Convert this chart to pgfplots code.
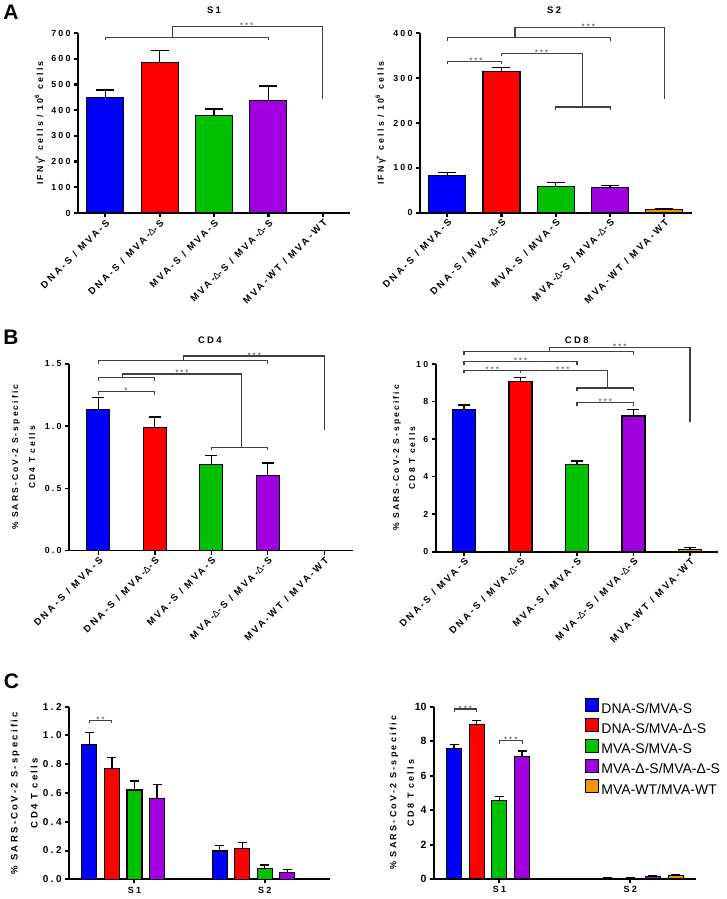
\documentclass[border=0pt]{standalone}
\usepackage{fontspec}
\setmainfont{Liberation Sans}
\newfontfamily\pf{Liberation Sans}[LetterSpace=25]
\usepackage{pgfplots}
\pgfplotsset{compat=1.18}

\definecolor{cBlue}{HTML}{0000FF}
\definecolor{cRed}{HTML}{FF0000}
\definecolor{cGreen}{HTML}{00C000}
\definecolor{cPurple}{HTML}{A000E0}
\definecolor{cOrange}{HTML}{F39400}
\definecolor{brkc}{HTML}{404040}

\newcommand{\tk}{\pf\bfseries\fontsize{8.8}{10}\selectfont}
\newcommand{\D}{{\mdseries Δ}}

\tikzset{
  brk/.style={draw=brkc, line width=1.1pt},
  stars/.style={font=\pf\fontsize{8}{9}\selectfont, text=brkc, anchor=base, yshift=-2pt, inner sep=0pt},
}

\pgfplotsset{
  prism/.style={
    scale only axis, clip=false,
    axis x line*=bottom, axis y line*=left,
    axis line style={-, line width=#1},
    tick align=outside, major tick length=4pt,
    every tick/.style={black, line width=#1},
    ymin=0,
    tick label style={font=\tk},
    /pgf/number format/assume math mode=true,
    title style={font=\pf\bfseries\fontsize{9.5}{11}\selectfont, anchor=center, yshift=0pt},
    ylabel style={anchor=center, align=center, font=\tk},
  },
  groups/.style={
    xmin=-0.5, xmax=4.5, xtick={0,...,4},
    xticklabels={DNA-S / MVA-S, DNA-S / MVA-\D-S, MVA-S / MVA-S, MVA-\D-S / MVA-\D-S, MVA-WT / MVA-WT},
    x tick label style={rotate=45, anchor=north east, inner sep=1pt, font=\pf\bfseries\fontsize{9.6}{11}\selectfont},
  },
  bar/.style 2 args={ybar, bar shift=0pt, bar width=#2, draw=black, line width=1.1pt, fill=#1},
  eb/.style={error bars/y dir=plus, error bars/y explicit,
    error bars/error bar style={line width=1.3pt, black},
    error bars/error mark options={rotate=90, line width=1.3pt, black, mark size=#1}},
}

\begin{document}
\begin{tikzpicture}
\useasboundingbox (0,0) rectangle (727pt,-899pt);

% ---------- A: S1
\begin{axis}[prism=2.2pt, groups, at={(78pt,-213pt)}, anchor=south west,
  width=272pt, height=180pt, ymax=700, ytick={0,100,...,700},
  title={S1}, title style={at={(axis description cs:0.5,1.095)}},
  ylabel={IFNγ\textsuperscript{+} cells / 10\textsuperscript{6} cells},
  ylabel style={at={(axis description cs:-0.14,0.5)}}]
\addplot[bar={cBlue}{37pt}, eb=9pt] coordinates {(0,448) +- (0,30)};
\addplot[bar={cRed}{37pt}, eb=9pt] coordinates {(1,587) +- (0,44)};
\addplot[bar={cGreen}{37pt}, eb=9pt] coordinates {(2,378) +- (0,26)};
\addplot[bar={cPurple}{37pt}, eb=9pt] coordinates {(3,437) +- (0,57)};
\draw[brk] (axis cs:0,672.8) |- (axis cs:3,681.7) -- (axis cs:3,672.8);
\draw[brk] (axis cs:1.23,681.7) |- (axis cs:4,724.5) -- (axis cs:4,443.3);
\node[stars] at (axis cs:2.6,724.5) {***};
\end{axis}

% ---------- A: S2
\begin{axis}[prism=2.2pt, groups, at={(420pt,-212.7pt)}, anchor=south west,
  width=271.5pt, height=179.4pt, ymax=400, ytick={0,100,...,400},
  title={S2}, title style={at={(axis description cs:0.494,1.095)}},
  ylabel={IFNγ\textsuperscript{+} cells / 10\textsuperscript{6} cells},
  ylabel style={at={(axis description cs:-0.145,0.5)}}]
\addplot[bar={cBlue}{37pt}, eb=9pt] coordinates {(0,82) +- (0,7)};
\addplot[bar={cRed}{37pt}, eb=9pt] coordinates {(1,315) +- (0,9)};
\addplot[bar={cGreen}{37pt}, eb=9pt] coordinates {(2,59) +- (0,8)};
\addplot[bar={cPurple}{37pt}, eb=9pt] coordinates {(3,56) +- (0,4)};
\addplot[bar={cOrange}{37pt}, eb=9pt] coordinates {(4,7) +- (0,3)};
\draw[brk] (axis cs:0,383.8) |- (axis cs:3,389.8) -- (axis cs:3,383.8);
\draw[brk] (axis cs:1.25,389.8) |- (axis cs:4,413.3) -- (axis cs:4,254.2);
\node[stars] at (axis cs:2.6,413.3) {***};
\draw[brk] (axis cs:0,332) |- (axis cs:1,337.1) -- (axis cs:1,332);
\node[stars] at (axis cs:0.53,337.1) {***};
\draw[brk] (axis cs:1,350) |- (axis cs:2.5,355.6) -- (axis cs:2.5,235.6);
\node[stars] at (axis cs:1.74,355.6) {***};
\draw[brk] (axis cs:2,229.8) |- (axis cs:3,235.6) -- (axis cs:3,229.8);
\end{axis}

% ---------- B: CD4
\begin{axis}[prism=1.4pt, groups, xmin=-0.52, at={(69pt,-550.5pt)}, anchor=south west,
  width=283.5pt, height=186.5pt, ymax=1.5, ytick={0,0.5,1,1.5},
  yticklabel style={/pgf/number format/.cd, fixed, fixed zerofill, precision=1},
  title={CD4}, title style={at={(axis description cs:0.497,1.097)}},
  ylabel={\% SARS-CoV-2 S-specific\\CD4 T cells},
  ylabel style={at={(axis description cs:-0.16,0.5)}, font=\pf\bfseries\fontsize{8.5}{17}\selectfont}]
\addplot[bar={cBlue}{23pt}, eb=6pt] coordinates {(0,1.135) +- (0,0.093)};
\addplot[bar={cRed}{23pt}, eb=6pt] coordinates {(1,0.99) +- (0,0.083)};
\addplot[bar={cGreen}{23pt}, eb=6pt] coordinates {(2,0.695) +- (0,0.067)};
\addplot[bar={cPurple}{23pt}, eb=6pt] coordinates {(3,0.604) +- (0,0.099)};
\draw[brk] (axis cs:0,1.502) |- (axis cs:3,1.530) -- (axis cs:3,1.502);
\draw[brk] (axis cs:1.5,1.530) |- (axis cs:4,1.564) -- (axis cs:4,0.969);
\node[stars] at (axis cs:2.76,1.564) {***};
\draw[brk] (axis cs:0,1.366) |- (axis cs:1,1.390) -- (axis cs:1,1.366);
\draw[brk] (axis cs:0.43,1.390) |- (axis cs:2.54,1.420) -- (axis cs:2.54,0.830);
\node[stars] at (axis cs:1.48,1.420) {***};
\draw[brk] (axis cs:2,0.806) |- (axis cs:3,0.830) -- (axis cs:3,0.806);
\draw[brk] (axis cs:0,1.251) |- (axis cs:1,1.277) -- (axis cs:1,1.251);
\node[stars] at (axis cs:0.49,1.277) {*};
\end{axis}

% ---------- B: CD8
\begin{axis}[prism=1.6pt, groups, at={(435.7pt,-551.7pt)}, anchor=south west,
  width=282.5pt, height=187.7pt, ymax=10, ytick={0,2,...,10},
  title={CD8}, title style={at={(axis description cs:0.499,1.096)}},
  ylabel={\% SARS-CoV-2 S-specific\\CD8 T cells},
  ylabel style={at={(axis description cs:-0.112,0.5)}, font=\pf\bfseries\fontsize{8.5}{16}\selectfont}]
\addplot[bar={cBlue}{23pt}, eb=6pt] coordinates {(0,7.60) +- (0,0.22)};
\addplot[bar={cRed}{23pt}, eb=6pt] coordinates {(1,9.08) +- (0,0.21)};
\addplot[bar={cGreen}{23pt}, eb=6pt] coordinates {(2,4.67) +- (0,0.16)};
\addplot[bar={cPurple}{23pt}, eb=6pt] coordinates {(3,7.23) +- (0,0.36)};
\addplot[bar={cOrange}{23pt}, eb=6pt] coordinates {(4,0.14) +- (0,0.09)};
\draw[brk] (axis cs:0,10.463) |- (axis cs:3,10.655) -- (axis cs:3,10.463);
\draw[brk] (axis cs:1.51,10.655) |- (axis cs:4,10.89) -- (axis cs:4,6.926);
\node[stars] at (axis cs:2.76,10.89) {***};
\draw[brk] (axis cs:0,9.947) |- (axis cs:2,10.144) -- (axis cs:2,9.947);
\node[stars] at (axis cs:1.0,10.144) {***};
\draw[brk] (axis cs:0,9.505) |- (axis cs:1,9.664) -- (axis cs:1,9.505);
\node[stars] at (axis cs:0.5,9.664) {***};
\draw[brk] (axis cs:1,9.664) -- (axis cs:2.54,9.664) -- (axis cs:2.54,8.721);
\node[stars] at (axis cs:1.75,9.664) {***};
\draw[brk] (axis cs:2,8.546) |- (axis cs:3,8.721) -- (axis cs:3,8.546);
\draw[brk] (axis cs:2,7.746) |- (axis cs:3,7.938) -- (axis cs:3,7.746);
\node[stars] at (axis cs:2.5,7.938) {***};
\end{axis}

% ---------- C: CD4 (bars at S1 = 0, S2 = 1, offset 0.1733 per group)
\begin{axis}[prism=2pt, at={(69.3pt,-879.3pt)}, anchor=south west,
  width=260.7pt, height=172.6pt, xmin=-0.5, xmax=1.5, xtick={0,1}, xticklabels={S1,S2},
  ymax=1.2, ytick={0,0.2,0.4,0.6,0.8,1.0,1.2},
  yticklabel style={font=\pf\bfseries\fontsize{10}{12}\selectfont, /pgf/number format/.cd, fixed, fixed zerofill, precision=1},
  xticklabel style={font=\pf\bfseries\fontsize{9}{10}\selectfont},
  ylabel={\% SARS-CoV-2 S-specific\\CD4 T cells},
  ylabel style={at={(axis description cs:-0.173,0.5)}, font=\pf\bfseries\fontsize{9.5}{20}\selectfont}]
\addplot[bar={cBlue}{15pt}, eb=4.5pt] coordinates {(-0.3466,0.939) +- (0,0.083) (0.6534,0.197) +- (0,0.037)};
\addplot[bar={cRed}{15pt}, eb=4.5pt] coordinates {(-0.1733,0.772) +- (0,0.074) (0.8267,0.216) +- (0,0.039)};
\addplot[bar={cGreen}{15pt}, eb=4.5pt] coordinates {(0,0.621) +- (0,0.063) (1,0.076) +- (0,0.024)};
\addplot[bar={cPurple}{15pt}, eb=4.5pt] coordinates {(0.1733,0.56) +- (0,0.10) (1.1733,0.049) +- (0,0.021)};
\draw[brk] (axis cs:-0.3466,1.085) |- (axis cs:-0.1733,1.103) -- (axis cs:-0.1733,1.085);
\node[stars] at (axis cs:-0.26,1.103) {**};
\end{axis}

% ---------- C: CD8
\begin{axis}[prism=2pt, at={(434pt,-879pt)}, anchor=south west,
  width=261.7pt, height=172.3pt, xmin=-0.5, xmax=1.5, xtick={0,1}, xticklabels={S1,S2},
  ymax=10, ytick={0,2,...,10},
  yticklabel style={font=\bfseries\fontsize{10.5}{12}\selectfont},
  xticklabel style={font=\pf\bfseries\fontsize{9}{10}\selectfont},
  ylabel={\% SARS-CoV-2 S-specific\\CD8 T cells},
  ylabel style={at={(axis description cs:-0.123,0.5)}, font=\pf\bfseries\fontsize{9}{17.5}\selectfont},
  legend cell align=left,
  legend style={at={(axis description cs:0.566,1.062)}, anchor=north west, draw=none, fill=none,
    font=\fontsize{14}{16}\selectfont, row sep=0pt,
    nodes={inner sep=2.35pt, text height=10pt, text depth=3pt}},
  legend image code/.code={\draw[#1, line width=0.8pt] (0pt,-2pt) rectangle (13pt,11pt);}]
\addplot[bar={cBlue}{15pt}, eb=4.5pt] coordinates {(-0.3466,7.58) +- (0,0.24) (0.6534,0.03) +- (0,0.01)};
\addplot[bar={cRed}{15pt}, eb=4.5pt] coordinates {(-0.1733,8.99) +- (0,0.19) (0.8267,0.05) +- (0,0.02)};
\addplot[bar={cGreen}{15pt}, eb=4.5pt] coordinates {(0,4.58) +- (0,0.19) (1,0.05) +- (0,0.02)};
\addplot[bar={cPurple}{15pt}, eb=4.5pt] coordinates {(0.1733,7.10) +- (0,0.33) (1.1733,0.17) +- (0,0.05)};
\addplot[bar={cOrange}{15pt}, eb=4.5pt] coordinates {(1.3466,0.19) +- (0,0.06)};
\legend{DNA-S/MVA-S, DNA-S/MVA-Δ-S, MVA-S/MVA-S, MVA-Δ-S/MVA-Δ-S, MVA-WT/MVA-WT}
\draw[brk] (axis cs:-0.3466,9.675) |- (axis cs:-0.1733,9.866) -- (axis cs:-0.1733,9.675);
\node[stars] at (axis cs:-0.26,9.866) {***};
\draw[brk] (axis cs:0,7.818) |- (axis cs:0.1733,8.027) -- (axis cs:0.1733,7.818);
\node[stars] at (axis cs:0.087,8.027) {***};
\end{axis}

\node[font=\bfseries\fontsize{21}{24}\selectfont] at (11pt,-12pt) {A};
\node[font=\bfseries\fontsize{21}{24}\selectfont] at (11pt,-337pt) {B};
\node[font=\bfseries\fontsize{21}{24}\selectfont] at (11.5pt,-681.5pt) {C};
\end{tikzpicture}
\end{document}
